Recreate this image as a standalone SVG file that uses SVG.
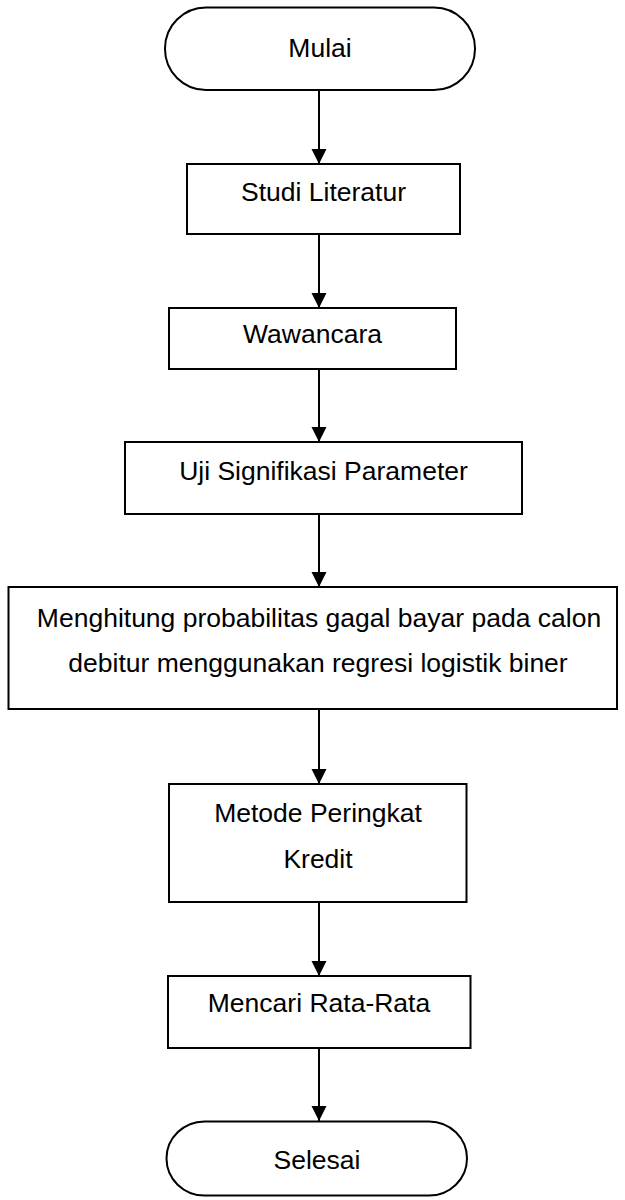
<svg xmlns="http://www.w3.org/2000/svg" width="625" height="1200" viewBox="0 0 625 1200">
<style>
.box{fill:#fff;stroke:#000;stroke-width:2}
.t{font-family:"Liberation Sans",Arial,sans-serif;font-size:26.5px;fill:#000;text-anchor:middle}
.c{stroke:#000;stroke-width:2;fill:none;marker-end:url(#ah)}
</style>
<defs>
<marker id="ah" markerUnits="userSpaceOnUse" markerWidth="16" markerHeight="16" viewBox="0 0 16 16" refX="8" refY="15" orient="auto-start-reverse">
<path d="M0.5,1 L15.5,1 L8,15 Z" fill="#000" transform="rotate(-90 8 8)"/>
</marker>
</defs>
<rect width="625" height="1200" fill="#fff"/>
<g id="connectors">
<path d="M319,90 L319,164" stroke="#000" stroke-width="2"/>
<polygon points="311.5,149 326.5,149 319,164"/>
<path d="M319,234 L319,308" stroke="#000" stroke-width="2"/>
<polygon points="311.5,293 326.5,293 319,308"/>
<path d="M319,369 L319,442" stroke="#000" stroke-width="2"/>
<polygon points="311.5,427 326.5,427 319,442"/>
<path d="M319,514 L319,587" stroke="#000" stroke-width="2"/>
<polygon points="311.5,572 326.5,572 319,587"/>
<path d="M319,709 L319,784" stroke="#000" stroke-width="2"/>
<polygon points="311.5,769 326.5,769 319,784"/>
<path d="M319,902 L319,976" stroke="#000" stroke-width="2"/>
<polygon points="311.5,961 326.5,961 319,976"/>
<path d="M319,1048 L319,1121" stroke="#000" stroke-width="2"/>
<polygon points="311.5,1106 326.5,1106 319,1121"/>
</g>
<g id="mulai">
<rect class="box" x="165" y="7.5" width="310" height="82.5" rx="41" ry="41"/>
<text class="t" x="320" y="57">Mulai</text>
</g>
<g id="studi-literatur">
<rect class="box" x="187" y="164" width="273" height="70"/>
<text class="t" x="323.5" y="200.5">Studi Literatur</text>
</g>
<g id="wawancara">
<rect class="box" x="169" y="308" width="287" height="61"/>
<text class="t" x="312.5" y="343">Wawancara</text>
</g>
<g id="uji-signifikasi">
<rect class="box" x="125" y="442" width="397" height="72"/>
<text class="t" x="323.5" y="480">Uji Signifikasi Parameter</text>
</g>
<g id="menghitung">
<rect class="box" x="8.5" y="587" width="608.5" height="122"/>
<text class="t" x="319" y="627">Menghitung probabilitas gagal bayar pada calon</text>
<text class="t" x="318" y="672">debitur menggunakan regresi logistik biner</text>
</g>
<g id="metode-peringkat">
<rect class="box" x="169" y="784" width="297.5" height="118"/>
<text class="t" x="318" y="822">Metode Peringkat</text>
<text class="t" x="318" y="868">Kredit</text>
</g>
<g id="mencari-rata">
<rect class="box" x="168" y="976" width="302.5" height="72"/>
<text class="t" x="319" y="1011.5">Mencari Rata-Rata</text>
</g>
<g id="selesai">
<rect class="box" x="166.5" y="1121.5" width="300.5" height="74" rx="38" ry="37"/>
<text class="t" x="317" y="1169">Selesai</text>
</g>
</svg>
